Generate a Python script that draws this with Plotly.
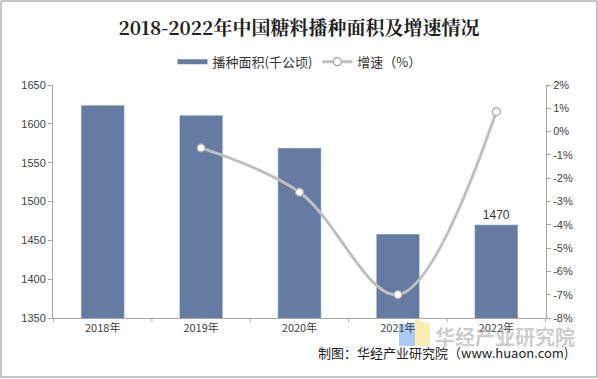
import plotly.graph_objects as go

categories = ["2018年", "2019年", "2020年", "2021年", "2022年"]
area = [1624, 1611, 1569, 1458, 1470]
growth = [None, -0.7, -2.6, -7.0, 0.85]
bar_labels = ["", "", "", "", "1470"]
pct_ticks = [2, 1, 0, -1, -2, -3, -4, -5, -6, -7, -8]
pct_labels = ["2%", "1%", "0%", "-1%", "-2%", "-3%", "-4%", "-5%", "-6%", "-7%", "-8%"]

BAR_COLOR = "#667BA1"

fig = go.Figure()
fig.add_trace(go.Bar(
    x=categories, y=area, name="播种面积(千公顷)", showlegend=False,
    marker=dict(color=BAR_COLOR), width=0.44,
    text=bar_labels, textposition="outside",
    textfont=dict(family="Liberation Sans, Arial", size=12, color="#333333"),
    cliponaxis=False,
))
# legend entry drawn as a flat bar swatch
fig.add_trace(go.Scatter(
    x=[None], y=[None], name="播种面积(千公顷)", mode="lines",
    line=dict(color=BAR_COLOR, width=5),
))
fig.add_trace(go.Scatter(
    x=categories, y=growth, name="增速（%）", yaxis="y2",
    mode="lines+markers", connectgaps=False,
    line=dict(color="#BFBFBF", width=3, shape="spline", smoothing=1.0),
    marker=dict(symbol="circle", size=8, color="white", line=dict(color="#A6A6A6", width=1.2)),
))

fig.update_layout(
    width=598, height=379,
    margin=dict(l=53, r=52, t=85, b=61, autoexpand=False),
    paper_bgcolor="white", plot_bgcolor="white",
    font=dict(family="Noto Sans CJK SC, Liberation Sans, Arial", size=11, color="#404040"),
    title=dict(text="<b>2018-2022年中国糖料播种面积及增速情况</b>", x=0.5, xanchor="center", y=0.925, yanchor="middle",
               font=dict(family="Noto Serif CJK SC, Noto Sans CJK SC, serif", size=19, color="#222222")),
    legend=dict(orientation="h", x=0.5, xanchor="center", y=1.1, yanchor="middle",
                font=dict(size=13, color="#333333"), traceorder="normal", itemwidth=30),
    showlegend=True,
    bargap=0.56,
    xaxis=dict(showline=True, linecolor="#A6A6A6", ticks="", showgrid=False,
               tickfont=dict(family="Noto Sans CJK SC, Liberation Sans", size=11, color="#404040")),
    yaxis=dict(range=[1350, 1650], dtick=50, showline=True, linecolor="#A6A6A6", ticks="outside",
               ticklen=4, tickcolor="#A6A6A6", showgrid=False, zeroline=False,
               tickfont=dict(family="Liberation Sans, Arial", size=11, color="#404040")),
    yaxis2=dict(range=[-8, 2], tickvals=pct_ticks, ticktext=pct_labels, overlaying="y", side="right",
                showline=True, linecolor="#A6A6A6",
                ticks="outside", ticklen=4, tickcolor="#A6A6A6", showgrid=False, zeroline=False,
                tickfont=dict(family="Liberation Sans, Arial", size=11, color="#404040")),
)

# category boundary ticks on x axis
for i in range(6):
    fig.add_shape(type="line", xref="x", yref="paper", x0=i - 0.5, x1=i - 0.5, y0=0, y1=-0.017,
                  line=dict(color="#A6A6A6", width=1))

# outer border
fig.add_shape(type="rect", xref="paper", yref="paper", x0=-52/493, x1=1 + 51/493,
              y0=-59/233, y1=1 + 84/233, line=dict(color="#8C8C8C", width=1))

# watermark logo
fig.add_shape(type="rect", xref="paper", yref="paper", layer="below",
              x0=346/493, x1=362/493, y0=-28/233, y1=-6/233,
              line=dict(width=0), fillcolor="rgba(140,185,245,0.75)")
fig.add_shape(type="path", xref="paper", yref="paper", layer="below",
              path=f"M {362/493} {-28/233} L {377/493} {-28/233} L {377/493} {-6/233} L {362/493} {-1/233} Z",
              line=dict(width=0), fillcolor="rgba(250,230,150,0.75)")

# watermark text
fig.add_annotation(text="<b>华经产业研究院</b>", xref="paper", yref="paper", x=1.063, y=-0.078, xanchor="right",
                   yanchor="middle", showarrow=False,
                   font=dict(family="Noto Sans CJK SC", size=20, color="rgba(160,160,160,0.55)"))
fig.add_annotation(text="制图：华经产业研究院（www.huaon.com)", xref="paper", yref="paper",
                   x=1.049, y=-0.146, xanchor="right", yanchor="middle", showarrow=False,
                   font=dict(family="Noto Sans CJK SC", size=13, color="#222222"))

fig.write_html("out.html", config={"displayModeBar": False},
               post_script="document.body.style.margin='0px';document.body.style.padding='0px';")
